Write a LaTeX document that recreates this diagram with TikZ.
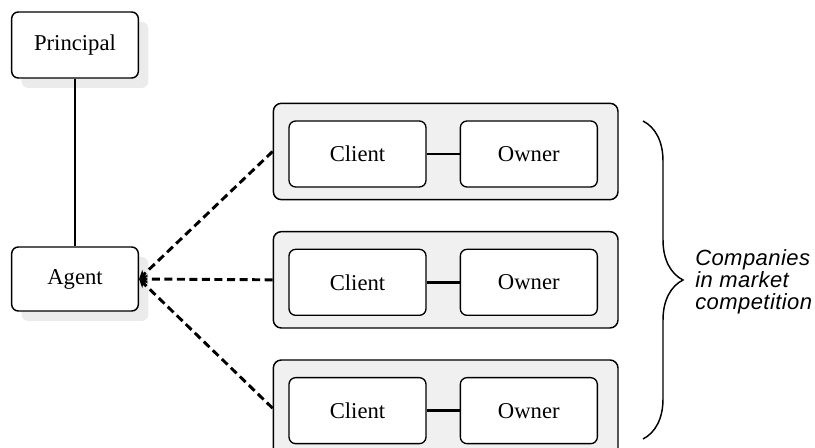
\documentclass[tikz,border=0pt]{standalone}
\usepackage{fontspec}
\setmainfont{Liberation Serif}
\newfontfamily\notefont{Liberation Sans}[LetterSpace=2]
\usetikzlibrary{positioning, arrows.meta, decorations.pathreplacing, fit, shadows, backgrounds}

\begin{document}
\begin{tikzpicture}[
    x=0.75pt, y=0.75pt,
    node distance=45.75pt and 24.75pt,
    box/.style={draw, rounded corners=5pt, line width=1.1pt, fill=white, minimum height=49.5pt, minimum width=95pt, align=center, font=\fontsize{17}{20}\selectfont, drop shadow={shadow xshift=7.5pt, shadow yshift=-7.5pt, fill=black!8, opacity=1}},
    party/.style={draw, rounded corners=5pt, line width=1pt, fill=white, minimum height=49.5pt, minimum width=102.75pt, font=\fontsize{17}{20}\selectfont},
    company/.style={draw, rounded corners=6pt, line width=1.1pt, fill=black!6, inner xsep=13.125pt, inner ysep=10.875pt, xshift=1.875pt, yshift=1.875pt},
    link/.style={line width=2.2pt},
    arr/.style={-{Stealth[length=6.5pt, width=6.5pt]}, line width=2.2pt, dash pattern=on 6pt off 3.4pt},
    brace/.style={decorate, decoration={brace, amplitude=30pt}, line width=1.1pt},
    note/.style={font=\notefont\itshape\fontsize{16.5}{16.5}\selectfont, align=left, anchor=west, inner sep=0pt},
]
\useasboundingbox (0,0) rectangle (815,-448);

% Left column: principal and agent
\node[box] (principal) at (75,-45) {Principal};
\node[box, minimum height=48pt] (agent) at (75,-279) {Agent};
\draw[link] (principal) -- (agent);

% Client/owner pairs
\node[party] (client1) at (357.5,-154) {Client};
\node[party, right=of client1] (owner1) {Owner};
\node[party, below=of client1] (client2) {Client};
\node[party, right=of client2] (owner2) {Owner};
\node[party, below=of client2] (client3) {Client};
\node[party, right=of client3] (owner3) {Owner};

% Company frames
\begin{scope}[on background layer]
\node[company, fit=(client1)(owner1)] (firm1) {};
\node[company, fit=(client2)(owner2)] (firm2) {};
\node[company, fit=(client3)(owner3)] (firm3) {};
\end{scope}

% Links
\draw[link] (client1) -- (owner1);
\draw[link] (client2) -- (owner2);
\draw[link] (client3) -- (owner3);
\draw[arr] (firm1.west) -- (agent.east);
\draw[arr] (firm2.west) -- (agent.east);
\draw[arr] (firm3.west) -- (agent.east);

% Brace and note
\coordinate (bracetop) at (643,-121);
\coordinate (bracebot) at (643,-439);
\draw[brace] (bracetop) -- (bracebot);
\node[note] (market) at (695,-282) {Companies\\in market\\competition};

\end{tikzpicture}
\end{document}
